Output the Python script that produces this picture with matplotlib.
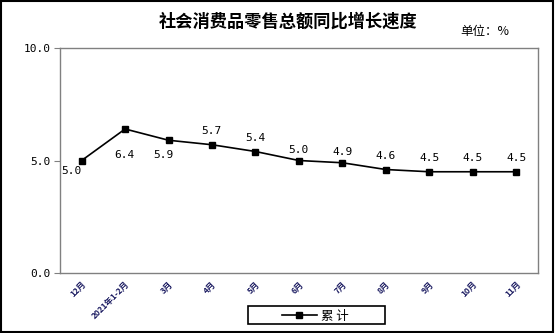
import matplotlib
matplotlib.use('Agg')
import matplotlib.pyplot as plt
from matplotlib.patches import Rectangle
from matplotlib.lines import Line2D

plt.rcParams['font.family'] = ['Noto Sans CJK SC', 'DejaVu Sans']

# 数据
months = ['12月', '2021年1-2月', '3月', '4月', '5月', '6月', '7月', '8月', '9月', '10月', '11月']
growth = [5.0, 6.4, 5.9, 5.7, 5.4, 5.0, 4.9, 4.6, 4.5, 4.5, 4.5]
y_ticks = [0.0, 5.0, 10.0]

# 数据标签偏移（像素）
label_offsets = [(-10, -10), (-1, -26), (-5, -15), (-1, 14), (0, 14), (0, 11),
                 (0, 11), (0, 14), (0, 14), (0, 14), (0, 14)]

fig = plt.figure(figsize=(5.55, 3.33), dpi=100)
ax = fig.add_axes([0.108, 0.180, 0.861, 0.676])

x = list(range(len(months)))
ax.plot(x, growth, color='black', lw=1.2, marker='s', ms=5, mfc='black', mec='black')

for xi, v, off in zip(x, growth, label_offsets):
    ax.annotate(f'{v:.1f}', (xi, v), xytext=off, textcoords='offset pixels',
                ha='center', va='center', fontsize=8, family='DejaVu Sans Mono')

ax.set_xlim(-0.5, len(months) - 0.5)
ax.set_ylim(0, 10)
ax.set_yticks(y_ticks)
ax.set_yticklabels([f'{t:.1f}' for t in y_ticks], fontsize=8, family='DejaVu Sans Mono')
ax.tick_params(axis='y', length=4, color='#808080', pad=3)
ax.set_xticks(x)
ax.set_xticklabels(months, rotation=45, ha='right', rotation_mode='anchor', fontsize=6,
                   fontweight='bold', color='#1a1a60')
ax.tick_params(axis='x', length=0, pad=5)
for s in ax.spines.values():
    s.set_color('#808080')
    s.set_linewidth(1)

fig.text(0.52, 0.935, '社会消费品零售总额同比增长速度', ha='center', va='center', fontsize=12.4, fontweight='bold')
fig.text(0.83, 0.905, '单位：%', ha='left', va='center', fontsize=9)

# 图例
handle = Line2D([], [], color='black', lw=1.2, marker='s', ms=5)
leg = fig.legend([handle], ['累 计'], loc='center', bbox_to_anchor=(0.568, 0.050), fontsize=9,
                 frameon=False, handlelength=2.8, handletextpad=0.3, borderaxespad=0)
fig.patches.append(Rectangle((0.447, 0.027), 0.247, 0.054, transform=fig.transFigure,
                             fill=False, edgecolor='black', lw=1.2))

# 外框
fig.patches.append(Rectangle((0.002, 0.003), 0.995, 0.994, transform=fig.transFigure,
                             fill=False, edgecolor='black', lw=1.5))

fig.savefig('out.png', dpi=100)
plt.close(fig)
